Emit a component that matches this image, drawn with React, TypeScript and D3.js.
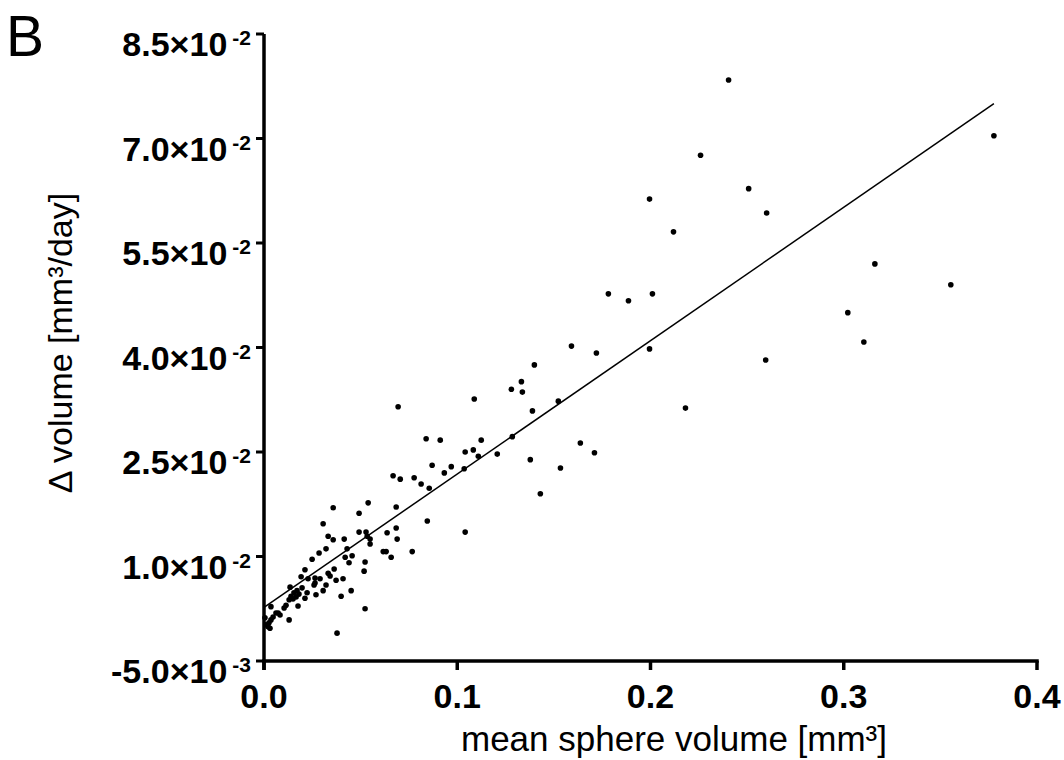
import React from "react";
import * as d3 from "d3";

// mean sphere volume [mm3]
const xValues = [
  0.0036, 0.0062, 0.0073, 0.0083, 0.0047, 0.0036, 0.0026, 0.001, 0.0021, 0.0031,
  0.0005, 0.0104, 0.0114, 0.013, 0.014, 0.0155, 0.0171, 0.0166, 0.015, 0.013,
  0.0135, 0.0192, 0.0212, 0.0176, 0.0181, 0.0197, 0.0212, 0.0223, 0.0228, 0.0249,
  0.0259, 0.0264, 0.0269, 0.0264, 0.0285, 0.029, 0.0306, 0.0306, 0.0321, 0.0321,
  0.0332, 0.0342, 0.0332, 0.0358, 0.0358, 0.0363, 0.0373, 0.0378, 0.0399, 0.0409,
  0.0415, 0.042, 0.043, 0.044, 0.0451, 0.0456, 0.0492, 0.0492, 0.0518, 0.0523,
  0.0523, 0.0528, 0.0534, 0.0539, 0.0549, 0.0549, 0.0617, 0.0632, 0.0637, 0.0658,
  0.0684, 0.0684, 0.0689, 0.0694, 0.0767, 0.0777, 0.0668, 0.0705, 0.0813, 0.0845,
  0.0855, 0.0839, 0.087, 0.0912, 0.0933, 0.0969, 0.1036, 0.1041, 0.1041, 0.1083,
  0.1088, 0.1109, 0.1124, 0.1207, 0.1285, 0.1332, 0.1337, 0.128, 0.1378, 0.1389,
  0.1399, 0.143, 0.1523, 0.1534, 0.1591, 0.1637, 0.171, 0.172, 0.1782, 0.1886,
  0.1995, 0.1995, 0.201, 0.2119, 0.2181, 0.2259, 0.2404, 0.2508, 0.2596, 0.2601,
  0.3021, 0.3104, 0.3161, 0.3554, 0.3777,
];
// delta volume [mm3/day]
const yValues = [
  0.0028, 0.0019, 0.0019, 0.0016, 0.0013, 0.0009, 0.0005, 0.0002, -0.0001, -0.0003,
  0.0012, 0.0026, 0.003, 0.0038, 0.0043, 0.0048, 0.0051, 0.0042, 0.0039, 0.0009,
  0.0056, 0.0071, 0.0081, 0.0029, 0.0046, 0.0055, 0.004, 0.0048, 0.0068, 0.0096,
  0.0059, 0.0062, 0.0045, 0.0069, 0.0105, 0.0068, 0.0051, 0.0147, 0.0111, 0.0059,
  0.0076, 0.0072, 0.0129, 0.0124, 0.017, 0.0082, 0.0066, -0.001, 0.0043, 0.0068,
  0.0125, 0.0099, 0.0111, 0.0091, 0.0051, 0.0101, 0.0162, 0.0135, 0.0079, 0.0092,
  0.0025, 0.0135, 0.0129, 0.0177, 0.0125, 0.0118, 0.0107, 0.0107, 0.0134, 0.0099,
  0.0141, 0.0171, 0.0125, 0.0315, 0.0107, 0.0213, 0.0216, 0.0211, 0.0204, 0.0151,
  0.0198, 0.0269, 0.0231, 0.0267, 0.022, 0.0229, 0.0226, 0.025, 0.0135, 0.0253,
  0.0326, 0.0244, 0.0267, 0.0247, 0.0272, 0.0351, 0.0336, 0.034, 0.0239, 0.0309,
  0.0375, 0.019, 0.0323, 0.0227, 0.0402, 0.0263, 0.0249, 0.0392, 0.0477, 0.0467,
  0.0613, 0.0398, 0.0477, 0.0566, 0.0313, 0.0676, 0.0784, 0.0628, 0.0382, 0.0593,
  0.045, 0.0408, 0.052, 0.049, 0.0704,
];

// regression line end points
const fitX = [0, 0.3777];
const fitY = [0.0027, 0.075];

const xTicks = [0, 0.1, 0.2, 0.3, 0.4];
const xTickLabels = ["0.0", "0.1", "0.2", "0.3", "0.4"];
const yTicks = [-0.005, 0.01, 0.025, 0.04, 0.055, 0.07, 0.085];
const yTickMantissa = ["-5.0", "1.0", "2.5", "4.0", "5.5", "7.0", "8.5"];
const yTickExponent = ["-3", "-2", "-2", "-2", "-2", "-2", "-2"];

const font = "'Liberation Sans', Arial, Helvetica, sans-serif";

const App = () => {
  const width = 1064;
  const height = 760;
  const margin = { top: 34, right: 27, bottom: 99, left: 264 };

  const xScale = d3
    .scaleLinear()
    .domain([0, 0.4])
    .range([margin.left, width - margin.right]);
  const yScale = d3
    .scaleLinear()
    .domain([-0.005, 0.085])
    .range([height - margin.bottom, margin.top]);

  const fitLine = d3
    .line<number>()
    .x((d) => xScale(d))
    .y((_, i) => yScale(fitY[i]));

  const x0 = xScale(0);
  const yBottom = yScale(-0.005);

  return (
    <svg
      width={width}
      height={height}
      style={{ position: "absolute", left: 0, top: 0, background: "white" }}
      fontFamily={font}
    >
      <text x={6} y={56} fontSize={57} fill="#000">
        B
      </text>

      {/* axes */}
      <line x1={x0} x2={x0} y1={yScale(0.085)} y2={yBottom + 9} stroke="#000" strokeWidth={3.5} />
      <line x1={x0 - 1.75} x2={xScale(0.4) + 1.75} y1={yBottom} y2={yBottom} stroke="#000" strokeWidth={3.5} />

      {yTicks.map((t, i) => (
        <g key={"y" + i}>
          <line x1={x0 - 8} x2={x0} y1={yScale(t)} y2={yScale(t)} stroke="#000" strokeWidth={3} />
          <text x={251} y={yScale(t) + 22} textAnchor="end" fontSize={34} fontWeight="bold">
            {yTickMantissa[i] + "\u00d710"}
            <tspan dx={5} dy={-11} fontSize={21}>
              {yTickExponent[i]}
            </tspan>
          </text>
        </g>
      ))}

      {xTicks.map((t, i) => (
        <g key={"x" + i}>
          <line x1={xScale(t)} x2={xScale(t)} y1={yBottom} y2={yBottom + 9} stroke="#000" strokeWidth={3.5} />
          <text x={xScale(t)} y={708} textAnchor="middle" fontSize={34} fontWeight="bold">
            {xTickLabels[i]}
          </text>
        </g>
      ))}

      <text x={674} y={751} textAnchor="middle" fontSize={35}>
        mean sphere volume [mm³]
      </text>
      <text
        transform={`translate(72, ${343}) rotate(-90)`}
        textAnchor="middle"
        fontSize={34}
      >
        Δ volume [mm³/day]
      </text>

      {/* regression line */}
      <path d={fitLine(fitX) || ""} fill="none" stroke="#000" strokeWidth={1.5} />

      {/* points */}
      {xValues.map((v, i) => (
        <circle key={i} cx={xScale(v)} cy={yScale(yValues[i])} r={2.8} fill="#000" />
      ))}
    </svg>
  );
};

export default App;
